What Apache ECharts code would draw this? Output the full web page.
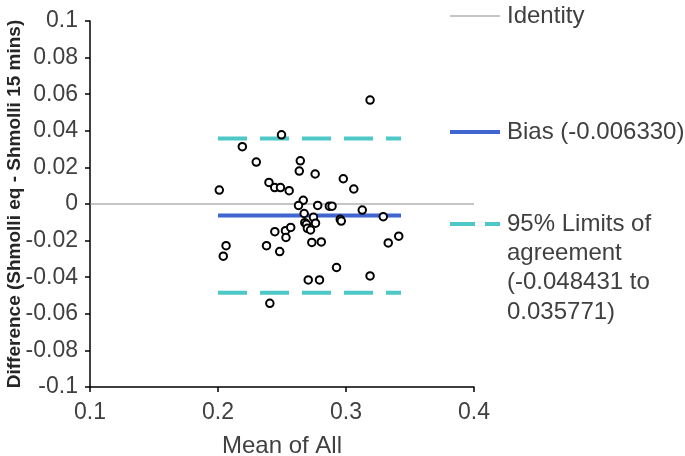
<!DOCTYPE html>
<html>
<head>
<meta charset="utf-8">
<script src="https://cdn.jsdelivr.net/npm/echarts@6/dist/echarts.min.js"></script>
<style>
html,body{margin:0;padding:0;background:#fff;}
#chart{width:685px;height:456px;}
</style>
</head>
<body>
<div id="chart"></div>
<script>
// Mean of All (x) values
const meanAll = [0.2010,0.2190,0.2299,0.2496,0.2398,0.2443,0.2488,0.2556,0.2643,0.2635,
  0.2759,0.2979,0.3061,0.2666,0.2629,0.2779,0.2870,0.2891,0.2673,0.2746,
  0.2955,0.2963,0.2678,0.2691,0.2762,0.2698,0.2723,0.2444,0.2527,0.2568,
  0.2531,0.2063,0.2041,0.2379,0.2482,0.2733,0.2807,0.2926,0.2705,0.2793,
  0.2405,0.3127,0.3291,0.3412,0.3330,0.3188,0.3188];
// Difference (y) values
const difference = [0.0076,0.0313,0.0229,0.0378,0.0118,0.0090,0.0090,0.0073,0.0236,0.0180,
  0.0164,0.0138,0.0082,0.0020,-0.0008,-0.0008,-0.0012,-0.0012,-0.0052,-0.0073,
  -0.0084,-0.0093,-0.0102,-0.0110,-0.0105,-0.0133,-0.0142,-0.0151,-0.0146,-0.0128,
  -0.0183,-0.0228,-0.0285,-0.0228,-0.0260,-0.0210,-0.0207,-0.0347,-0.0415,-0.0415,
  -0.0543,-0.0033,-0.0069,-0.0176,-0.0213,-0.0393,0.0568];
const biasValue = -0.006330;
const loaLower = -0.048431;
const loaUpper = 0.035771;
const identityX = [0.1, 0.4];
const limitsX = [0.2, 0.343];
const legendLabels = ['Identity', 'Bias (-0.006330)', '95% Limits of\nagreement\n(-0.048431 to\n0.035771)'];
const xTickLabels = ['0.1','0.2','0.3','0.4'];
const yTickLabels = ['-0.1','-0.08','-0.06','-0.04','-0.02','0','0.02','0.04','0.06','0.08','0.1'];

const FONT = '"Liberation Sans", Arial, sans-serif';
const TXT = '#404040';
const BLUE = '#3F65D0';
const CYAN = '#4EC7C7';

const chart = echarts.init(document.getElementById('chart'), null, {renderer:'canvas'});
const points = meanAll.map((x,i)=>[x, difference[i]]);

chart.setOption({
  animation: false,
  backgroundColor: '#fff',
  grid: {left: 90, right: 211, top: 21, bottom: 69, containLabel: false, outerBoundsMode: 'none'},
  xAxis: {
    type: 'value', min: 0.1, max: 0.4, interval: 0.1,
    name: 'Mean of All', nameLocation: 'middle', nameGap: 47, nameMoveOverlap: false,
    nameTextStyle: {fontFamily: FONT, fontSize: 24, color: TXT},
    axisLine: {show: true, onZero: false, lineStyle: {color: '#000', width: 1.5}},
    axisTick: {show: true, inside: false, length: 5, lineStyle: {color: '#000', width: 1.5}},
    axisLabel: {fontFamily: FONT, fontSize: 23, color: TXT, margin: 14,
      formatter: v => xTickLabels[Math.round((v-0.1)/0.1)]},
    splitLine: {show: false}
  },
  yAxis: {
    type: 'value', min: -0.1, max: 0.1, interval: 0.02,
    name: 'Difference (Shmolli eq - Shmolli 15 mins)', nameLocation: 'middle', nameGap: 66,
    nameMoveOverlap: false,
    nameTextStyle: {fontFamily: FONT, fontSize: 19, fontWeight: 'bold', color: '#262626'},
    axisLine: {show: true, onZero: false, lineStyle: {color: '#000', width: 1.5}},
    axisTick: {show: true, inside: false, length: 5, lineStyle: {color: '#000', width: 1.5}},
    axisLabel: {fontFamily: FONT, fontSize: 23, color: TXT, margin: 12,
      formatter: v => yTickLabels[Math.round((v+0.1)/0.02)]},
    splitLine: {show: false}
  },
  series: [
    {type: 'line', name: 'Identity', data: identityX.map(x=>[x,0]), symbol: 'none',
      lineStyle: {color: '#8c8c8c', width: 1.2}, z: 1},
    {type: 'line', name: 'Bias', data: limitsX.map(x=>[x,biasValue]), symbol: 'none',
      lineStyle: {color: BLUE, width: 4}, z: 2},
    {type: 'line', name: 'Upper LOA', data: limitsX.map(x=>[x,loaUpper]), symbol: 'none',
      lineStyle: {color: CYAN, width: 4, type: [29,13]}, z: 2},
    {type: 'line', name: 'Lower LOA', data: limitsX.map(x=>[x,loaLower]), symbol: 'none',
      lineStyle: {color: CYAN, width: 4, type: [29,13]}, z: 2},
    {type: 'scatter', name: 'Points', data: points, symbol: 'circle', symbolSize: 7.5,
      itemStyle: {color: '#fff', borderColor: '#000', borderWidth: 2, opacity: 1}, z: 5}
  ],
  graphic: [
    {type: 'line', shape: {x1: 450, y1: 16, x2: 500, y2: 16}, style: {stroke: '#8c8c8c', lineWidth: 1.2}},
    {type: 'text', x: 507, y: 16, style: {text: legendLabels[0], font: '24px ' + FONT, fill: TXT, verticalAlign: 'middle'}},
    {type: 'line', shape: {x1: 450, y1: 132, x2: 500, y2: 132}, style: {stroke: BLUE, lineWidth: 4}},
    {type: 'text', x: 507, y: 132, style: {text: legendLabels[1], font: '24px ' + FONT, fill: TXT, verticalAlign: 'middle'}},
    {type: 'line', shape: {x1: 450, y1: 224, x2: 500, y2: 224}, style: {stroke: CYAN, lineWidth: 4, lineDash: [25,10]}},
    {type: 'text', x: 507, y: 209.5, style: {text: legendLabels[2], font: '24px ' + FONT, fill: TXT, verticalAlign: 'top', lineHeight: 29.3}}
  ]
});
</script>
</body>
</html>
